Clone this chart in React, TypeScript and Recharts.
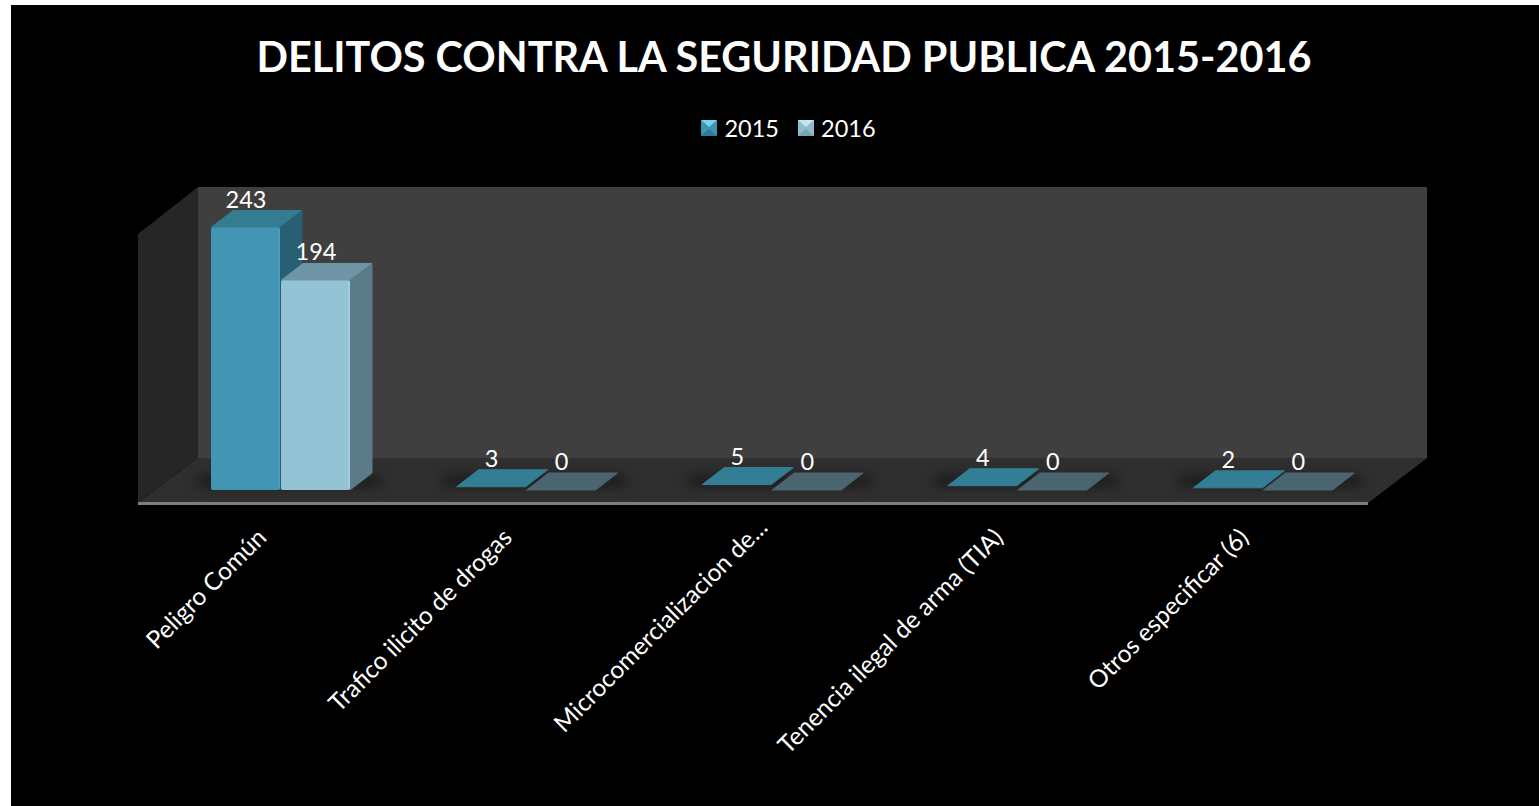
import React from 'react';
import { BarChart, Bar, XAxis, YAxis, Legend, LabelList } from 'recharts';

/* ============================
   Data
============================ */

const categories = [
    'Peligro Común',
    'Trafico ilicito de drogas',
    'Microcomercializacion de...',
    'Tenencia ilegal de arma (TIA)',
    'Otros especificar (6)',
];
const values2015 = [243, 3, 5, 4, 2];
const values2016 = [194, 0, 0, 0, 0];

const chartData = categories.map((name, i) => ({
    name,
    y2015: values2015[i],
    y2016: values2016[i],
}));

/* ============================
   Styles
============================ */

const FONT = 'Lato, sans-serif';
const WIDTH = 1528;
const HEIGHT = 801;
const DX = 22;
const DY = -17;

const FACES: Record<string, { front: string; edge: string; top: string; side: string; flat: string }> = {
    y2015: { front: '#4296b3', edge: '#4a9fbc', top: '#347c90', side: '#285f72', flat: '#337e94' },
    y2016: { front: '#94c3d6', edge: '#a0cfe1', top: '#6f96a6', side: '#5c7b88', flat: '#4a6570' },
};

/* ============================
   3D box drawn from the bar rectangle
============================ */

const Box = (props: any) => {
    const { x, y, width, height, dataKey } = props;
    const c = FACES[dataKey];
    const bottom = y + height;
    const right = x + width - 1;
    const flat = height < 8;
    const topFill = flat ? c.flat : c.top;
    return (
        <g strokeLinejoin="round">
            <polygon
                points={`${x},${y} ${right},${y} ${right + DX},${y + DY} ${x + DX},${y + DY}`}
                fill={topFill}
                stroke={topFill}
                strokeWidth={1}
            />
            {!flat && (
                <>
                    <polygon
                        points={`${right},${y} ${right + DX},${y + DY} ${right + DX},${bottom + DY} ${right},${bottom}`}
                        fill={c.side}
                        stroke={c.side}
                        strokeWidth={1}
                    />
                    <rect x={x} y={y} width={width - 1} height={height} rx={2} fill={c.front} />
                    <rect x={right - 2} y={y + 1} width={2} height={height - 2} fill={c.edge} />
                </>
            )}
        </g>
    );
};

const AngledTick = (props: any) => {
    const { x, y, payload, index } = props;
    // the truncated label sits a little further along its line in the original
    const nudge = index === 2 ? 10 : 0;
    return (
        <text
            transform={`translate(${x - 13 + nudge},${y + 41 - nudge}) rotate(-45)`}
            textAnchor="end"
            fontFamily={FONT}
            fontSize={24.5}
            fill="#ffffff"
        >
            {payload.value}
        </text>
    );
};

const LegendSwatch = ({ light }: { light: boolean }) => {
    const base = light ? '#8fbccd' : '#3f93b0';
    const tip = light ? '#c4e4f0' : '#6fd6ee';
    const low = light ? '#7ba3b3' : '#2f7a94';
    return (
        <svg width={16} height={16}>
            <rect width={16} height={16} fill={base} />
            <polygon points="0,0 16,0 8,7" fill={tip} />
            <polygon points="0,16 16,16 8,9" fill={low} />
        </svg>
    );
};

const LegendBox = () => (
    <div
        style={{
            display: 'flex',
            justifyContent: 'center',
            alignItems: 'center',
            fontFamily: FONT,
            fontSize: 23.5,
            color: '#ffffff',
            height: 30,
            paddingLeft: 27,
        }}
    >
        <LegendSwatch light={false} />
        <span style={{ marginLeft: 7, marginRight: 19 }}>2015</span>
        <LegendSwatch light={true} />
        <span style={{ marginLeft: 7 }}>2016</span>
    </div>
);

/* Back wall, side wall and floor, sits behind the transparent chart */
const Room = () => (
    <svg width={WIDTH} height={HEIGHT} style={{ position: 'absolute', left: 0, top: 0 }}>
        <defs>
            <filter id="soft" x="-40%" y="-300%" width="180%" height="700%" colorInterpolationFilters="sRGB">
                <feGaussianBlur stdDeviation="6" />
            </filter>
        </defs>
        <polygon points="187,182 1416,182 1416,453 187,453" fill="#3f3f3f" />
        <polygon points="127,229 187,182 187,453 127,498" fill="#262626" />
        <polygon points="187,453 1416,453 1357,498 127,498" fill="#2f2f2f" />
        <rect x={127} y={497} width={1230} height={3} fill="#7f7f7f" />
        {[270, 516, 761, 1007, 1252].map((cx) => (
            <rect key={cx} x={cx - 85} y={470} width={185} height={12} rx={6} fill="#1c1c1c" filter="url(#soft)" />
        ))}
    </svg>
);

/* ============================
   Component
============================ */

const App: React.FC = () => (
    <div style={{ position: 'absolute', left: 11, top: 5, width: WIDTH, height: HEIGHT, background: '#000000' }}>
        <Room />
        <div style={{ position: 'absolute', left: 0, top: 0 }}>
            <BarChart
                width={WIDTH}
                height={HEIGHT}
                data={chartData}
                barSize={70}
                barGap={0}
                barCategoryGap={0}
                margin={{ top: 185, right: 153, bottom: 0, left: 147 }}
            >
                <Legend
                    verticalAlign="top"
                    height={0}
                    content={<LegendBox />}
                    wrapperStyle={{ top: 108, left: 0, width: WIDTH }}
                />
                <XAxis
                    dataKey="name"
                    height={316}
                    interval={0}
                    axisLine={false}
                    tickLine={false}
                    tick={<AngledTick />}
                />
                <YAxis hide domain={[0, 250]} />
                <Bar dataKey="y2015" name="2015" fill="#4296b3" shape={<Box />} isAnimationActive={false}>
                    <LabelList dataKey="y2015" position="top" offset={20} fill="#ffffff" fontFamily={FONT} fontSize={23.5} />
                </Bar>
                <Bar dataKey="y2016" name="2016" fill="#94c3d6" shape={<Box />} isAnimationActive={false}>
                    <LabelList dataKey="y2016" position="top" offset={20} fill="#ffffff" fontFamily={FONT} fontSize={23.5} />
                </Bar>
                <text x={773} y={66.5} textAnchor="middle" fontFamily={FONT} fontWeight={700} fontSize={41.4} fill="#ffffff">
                    DELITOS CONTRA LA SEGURIDAD PUBLICA 2015-2016
                </text>
            </BarChart>
        </div>
    </div>
);

export default App;
